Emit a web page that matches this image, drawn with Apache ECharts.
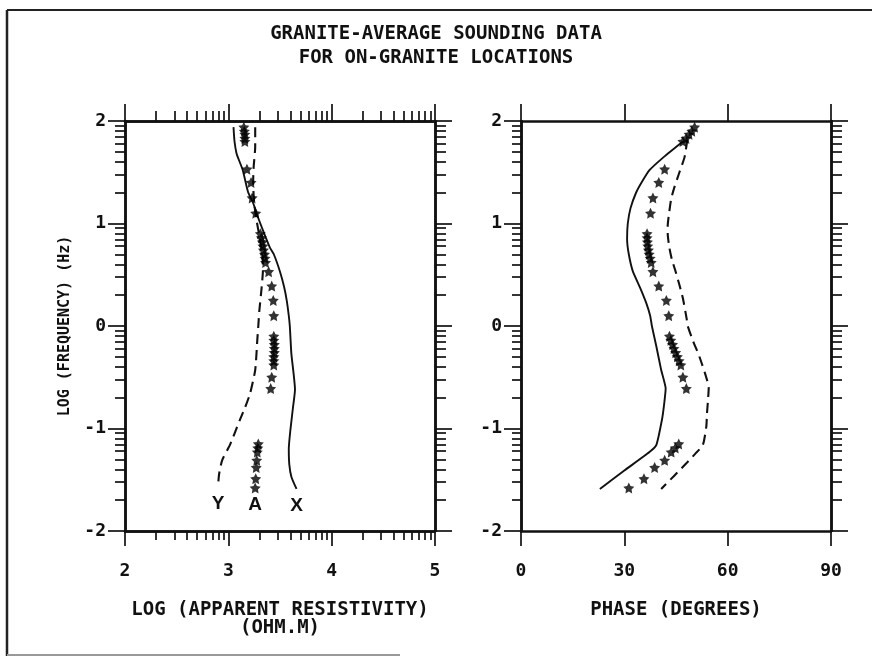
<!DOCTYPE html>
<html>
<head>
<meta charset="utf-8">
<script src="https://cdn.jsdelivr.net/npm/echarts@6/dist/echarts.min.js"></script>
<style>
  html, body { margin: 0; padding: 0; background: #fff; }
  #chart { width: 872px; height: 658px; }
</style>
</head>
<body>
<div id="chart"></div>
<script>
// Log frequency (Hz) of the averaged sounding stations
const logFreq = [1.94, 1.90, 1.87, 1.83, 1.80, 1.53, 1.40, 1.25, 1.10,
  0.90, 0.86, 0.82, 0.78, 0.74, 0.70, 0.66, 0.62, 0.53, 0.39, 0.25, 0.10,
  -0.10, -0.14, -0.18, -0.22, -0.26, -0.30, -0.34, -0.38, -0.50, -0.61,
  -1.15, -1.19, -1.23, -1.31, -1.38, -1.49, -1.58];

// Averaged (A) log apparent resistivity at each frequency
const rhoA = [3.15, 3.155, 3.16, 3.16, 3.16, 3.18, 3.22, 3.23, 3.265,
  3.31, 3.32, 3.33, 3.335, 3.34, 3.35, 3.355, 3.36, 3.39, 3.42, 3.435, 3.44,
  3.44, 3.44, 3.445, 3.445, 3.445, 3.44, 3.44, 3.44, 3.42, 3.41,
  3.29, 3.285, 3.28, 3.275, 3.27, 3.265, 3.26];

// Averaged (A) phase in degrees at each frequency
const phaseA = [50.4, 49.6, 48.8, 47.9, 47.0, 41.7, 40.0, 38.3, 37.6,
  36.6, 36.6, 36.7, 36.8, 37.0, 37.2, 37.5, 37.8, 38.3, 40.0, 42.2, 42.9,
  43.1, 43.5, 44.0, 44.4, 44.9, 45.4, 45.9, 46.4, 47.0, 48.0,
  45.8, 44.8, 43.6, 41.7, 38.8, 35.7, 31.3];

// X-direction resistivity curve: [log rho, log f]
const rhoX = [[3.05, 1.94], [3.06, 1.80], [3.08, 1.68], [3.11, 1.60], [3.14, 1.52],
  [3.19, 1.31], [3.24, 1.20], [3.28, 1.08], [3.34, 0.92], [3.40, 0.77], [3.44, 0.70],
  [3.50, 0.53], [3.54, 0.38], [3.565, 0.25], [3.585, 0.10], [3.595, 0.0],
  [3.61, -0.27], [3.63, -0.45], [3.645, -0.62], [3.625, -0.80], [3.60, -1.02],
  [3.585, -1.20], [3.59, -1.35], [3.61, -1.47], [3.66, -1.59]];

// Y-direction resistivity curve: [log rho, log f]
const rhoY = [[3.26, 1.94], [3.26, 1.75], [3.245, 1.55], [3.24, 1.40], [3.25, 1.20],
  [3.27, 1.05], [3.30, 0.88], [3.33, 0.70], [3.335, 0.55], [3.32, 0.35], [3.30, 0.15],
  [3.29, 0.0], [3.28, -0.14], [3.26, -0.43], [3.21, -0.66], [3.16, -0.80],
  [3.11, -0.92], [3.02, -1.15], [2.94, -1.31], [2.91, -1.45], [2.90, -1.57]];

// X-direction phase curve: [degrees, log f]
const phaseX = [[47.0, 1.80], [41.5, 1.65], [37.3, 1.52], [35.0, 1.40], [33.4, 1.30],
  [31.8, 1.15], [31.0, 1.00], [30.8, 0.85], [31.3, 0.70], [32.5, 0.53], [34.5, 0.38],
  [36.3, 0.23], [37.5, 0.10], [38.0, 0.0], [39.3, -0.20], [40.7, -0.43], [42.0, -0.61],
  [41.6, -0.75], [41.0, -0.90], [39.3, -1.16], [37.3, -1.23], [30.0, -1.41], [22.9, -1.59]];

// Y-direction phase curve: [degrees, log f]
const phaseY = [[48.3, 1.82], [47.5, 1.65], [46.0, 1.50], [44.5, 1.35], [43.6, 1.24],
  [43.0, 1.10], [42.6, 0.98], [42.6, 0.90], [43.1, 0.76], [43.8, 0.65], [44.9, 0.53],
  [46.0, 0.40], [47.0, 0.27], [48.1, 0.07], [48.4, 0.0], [50.0, -0.15], [51.8, -0.30],
  [53.5, -0.47], [54.5, -0.60], [54.3, -0.72], [54.0, -0.85], [53.8, -0.98],
  [52.8, -1.16], [50.5, -1.25], [48.0, -1.34], [44.5, -1.46], [40.7, -1.59]];

// Tick labels
const freqTicks = [-2, -1, 0, 1, 2];
const rhoTicks = [2, 3, 4, 5];
const phaseTicks = [0, 30, 60, 90];

// Log-decade minor tick positions (2..9 within each decade)
function decadeTicks(from, to) {
  const out = [];
  for (let d = from; d < to; d++) {
    for (let k = 2; k <= 9; k++) out.push(d + Math.log10(k));
  }
  return out;
}
const freqMinor = decadeTicks(-2, 2);
const rhoMinor = decadeTicks(2, 5);

const INK = '#111';
const MONO = '"DejaVu Sans Mono", "Liberation Mono", monospace';
// five-pointed star with a fairly full body
const STAR = 'path://M50,0 L64.7,29.8 L97.6,34.5 L73.8,57.7 L79.4,90.5 L50,75 L20.6,90.5 L26.2,57.7 L2.4,34.5 L35.3,29.8 Z';

function xAx(grid, pos, min, max, ticks, len, labels, extra) {
  return Object.assign({
    type: 'value', gridIndex: grid, position: pos, min: min, max: max,
    axisLine: { show: true, onZero: false, lineStyle: { color: INK, width: 2.5 } },
    axisTick: { show: true, inside: false, length: len, customValues: ticks,
      lineStyle: { color: INK, width: 1.7 } },
    axisLabel: { show: labels, customValues: labels ? ticks : undefined, margin: 31,
      color: INK, fontFamily: MONO, fontSize: 18, fontWeight: 'bold' },
    splitLine: { show: false }
  }, extra || {});
}
function yAx(grid, pos, ticks, len, labels, extra) {
  return Object.assign({
    type: 'value', gridIndex: grid, position: pos, min: -2, max: 2,
    axisLine: { show: true, onZero: false, lineStyle: { color: INK, width: 2.5 } },
    axisTick: { show: true, inside: false, length: len, customValues: ticks,
      lineStyle: { color: INK, width: 1.7 } },
    axisLabel: { show: labels, customValues: labels ? ticks : undefined, margin: 19,
      color: INK, fontFamily: MONO, fontSize: 18, fontWeight: 'bold' },
    splitLine: { show: false }
  }, extra || {});
}

const nameStyle = { color: INK, fontFamily: MONO, fontSize: 19, fontWeight: 'bold', lineHeight: 18 };

const xAxes = [
  // resistivity panel
  xAx(0, 'bottom', 2, 5, rhoTicks, 15, true, {
    name: 'LOG (APPARENT RESISTIVITY)\n(OHM.M)', nameLocation: 'middle', nameGap: 70,
    nameTextStyle: nameStyle }),
  xAx(0, 'bottom', 2, 5, rhoMinor, 9, false),
  xAx(0, 'top', 2, 5, rhoTicks, 17, false),
  xAx(0, 'top', 2, 5, rhoMinor, 10, false),
  // phase panel
  xAx(1, 'bottom', 0, 90, phaseTicks, 15, true, {
    name: 'PHASE (DEGREES)', nameLocation: 'middle', nameGap: 70,
    nameTextStyle: nameStyle }),
  xAx(1, 'top', 0, 90, phaseTicks, 17, false)
];

const yAxes = [
  yAx(0, 'left', freqTicks, 17, true, {
    name: 'LOG (FREQUENCY) (Hz)', nameLocation: 'middle', nameGap: 52,
    nameTextStyle: { color: INK, fontFamily: MONO, fontSize: 15, fontWeight: 'bold' } }),
  yAx(0, 'left', freqMinor, 10, false),
  yAx(0, 'right', freqTicks, 17, false),
  yAx(0, 'right', freqMinor, 11, false),
  yAx(1, 'left', freqTicks, 17, true),
  yAx(1, 'left', freqMinor, 9, false),
  yAx(1, 'right', freqTicks, 17, false),
  yAx(1, 'right', freqMinor, 11, false)
];

function endTag(point, text) {
  return {
    symbol: 'circle', symbolSize: 0, silent: true,
    data: [{ coord: point, label: { show: true, formatter: text, position: 'bottom',
      distance: 7, color: INK, fontFamily: '"Liberation Sans", Arial, sans-serif',
      fontWeight: 'bold', fontSize: 19 } }]
  };
}

const lineBase = { type: 'line', showSymbol: false, smooth: 0.2, silent: true, z: 3 };

const series = [
  Object.assign({}, lineBase, {
    name: 'X', xAxisIndex: 0, yAxisIndex: 0, data: rhoX,
    lineStyle: { color: INK, width: 1.9 },
    markPoint: endTag(rhoX[rhoX.length - 1], 'X')
  }),
  Object.assign({}, lineBase, {
    name: 'Y', xAxisIndex: 0, yAxisIndex: 0, data: rhoY,
    lineStyle: { color: INK, width: 2.1, type: [10, 6] },
    markPoint: endTag(rhoY[rhoY.length - 1], 'Y')
  }),
  {
    name: 'A', type: 'scatter', xAxisIndex: 0, yAxisIndex: 0, silent: true, z: 4,
    symbol: STAR, symbolSize: 11, itemStyle: { color: '#000' },
    data: logFreq.map((f, i) => [rhoA[i], f]),
    markPoint: endTag([rhoA[rhoA.length - 1], logFreq[logFreq.length - 1]], 'A')
  },
  Object.assign({}, lineBase, {
    name: 'X phase', xAxisIndex: 4, yAxisIndex: 4, data: phaseX, smooth: 0.15,
    lineStyle: { color: INK, width: 1.9 }
  }),
  Object.assign({}, lineBase, {
    name: 'Y phase', xAxisIndex: 4, yAxisIndex: 4, data: phaseY,
    lineStyle: { color: INK, width: 2.1, type: [10, 6] }
  }),
  {
    name: 'A phase', type: 'scatter', xAxisIndex: 4, yAxisIndex: 4, silent: true, z: 4,
    symbol: STAR, symbolSize: 11, itemStyle: { color: '#000' },
    data: logFreq.map((f, i) => [phaseA[i], f])
  }
];

const chart = echarts.init(document.getElementById('chart'), null, { renderer: 'canvas' });
chart.setOption({
  backgroundColor: '#fff',
  animation: false,
  title: {
    text: 'GRANITE-AVERAGE SOUNDING DATA\nFOR ON-GRANITE LOCATIONS',
    left: 'center', top: 17,
    textStyle: { color: INK, fontFamily: MONO, fontSize: 19, fontWeight: 'bold', lineHeight: 24 }
  },
  grid: [
    { left: 125, top: 121, width: 310, height: 410 },
    { left: 521, top: 121, width: 310, height: 410 }
  ],
  xAxis: xAxes,
  yAxis: yAxes,
  series: series,
  graphic: [
    // page frame
    { type: 'line', shape: { x1: 7, y1: 10, x2: 872, y2: 10 }, style: { stroke: '#222', lineWidth: 2 } },
    { type: 'line', shape: { x1: 7, y1: 10, x2: 7, y2: 656 }, style: { stroke: '#222', lineWidth: 2.5 } },
    { type: 'line', shape: { x1: 7, y1: 655, x2: 400, y2: 655 }, style: { stroke: '#999', lineWidth: 2 } }
  ]
});
</script>
</body>
</html>
